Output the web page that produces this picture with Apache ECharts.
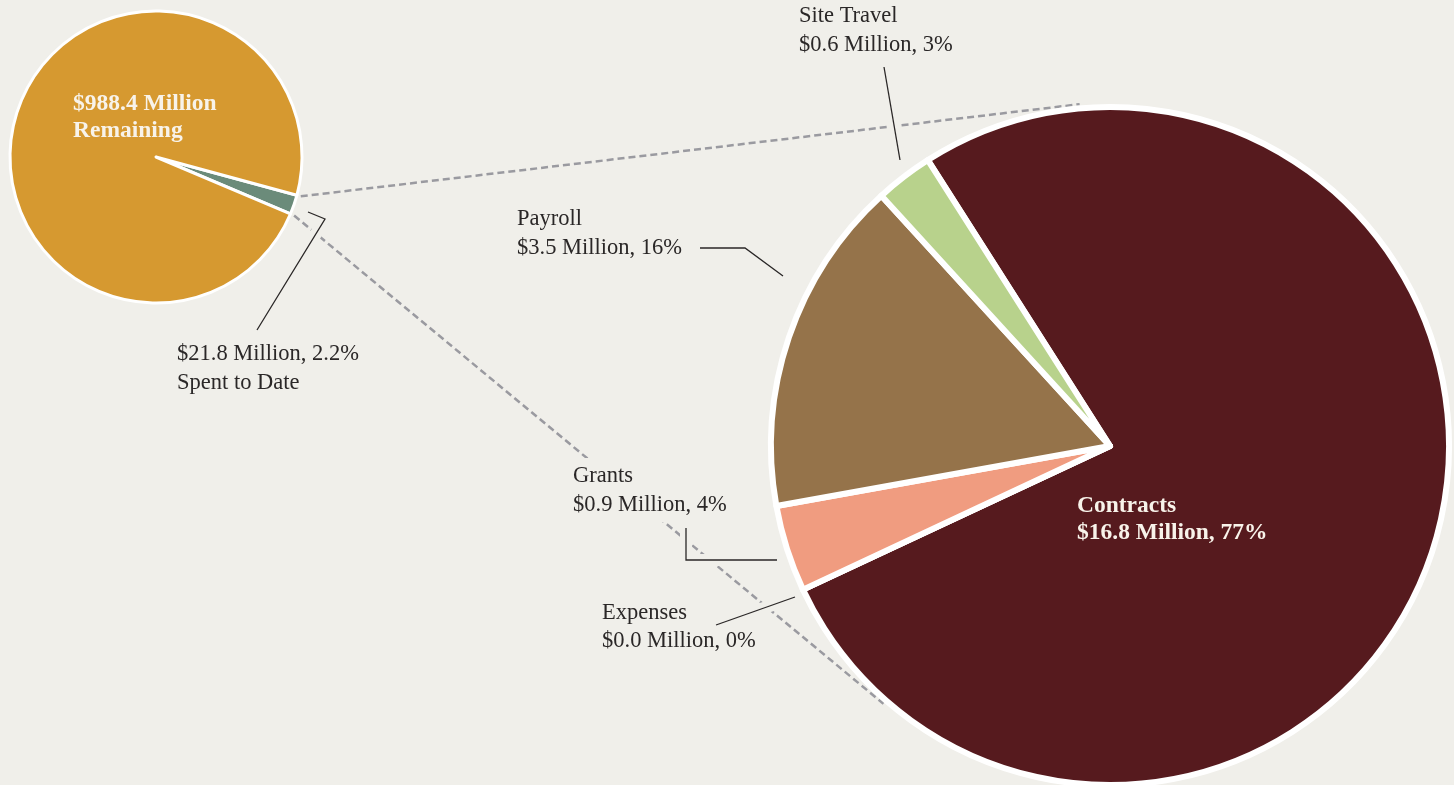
<!DOCTYPE html>
<html>
<head>
<meta charset="utf-8">
<script src="https://cdn.jsdelivr.net/npm/echarts@6/dist/echarts.min.js"></script>
<style>
html, body { margin: 0; padding: 0; background: #F0EFEA; }
#c { width: 1454px; height: 785px; }
</style>
</head>
<body>
<div id="c"></div>
<script>
// ---------------- data ----------------
const overallNames = ['Spent to Date', 'Remaining'];
const overallValues = [21.8, 988.4];

const spentNames = ['Contracts', 'Expenses', 'Grants', 'Payroll', 'Site Travel'];
const spentValues = [16.8, 0.0, 0.9, 3.5, 0.6];

// ---------------- styles ----------------
const BG = '#F0EFEA';
const TEXT = '#2A2727';
const LIGHT = '#F8F3EA';
const FONT = 'Liberation Serif';
const overallColors = ['#6B8B7A', '#D69930'];
const spentColors = ['#561A1E', '#C9C1B5', '#F09C80', '#95734A', '#B8D28C'];

// label placement (left edge, first baseline, line height, leader points)
const smallLabelLayout = [
  { left: 177, base: 361, lh: 29, pad: [0, 0], line: [[308, 212], [325, 219], [257, 330]] },
  { left: 73, base: 111.5, lh: 27, pad: [0, 0] }
];
const bigLabelLayout = [
  { left: 1077, base: 513.5, lh: 27, pad: [0, 0] },
  { left: 602, base: 620, lh: 28, pad: [0, 0], line: [[795, 597], [716, 625]] },
  { left: 573, base: 483, lh: 29, pad: [3, 6], line: [[777, 560], [686, 560], [686, 528]] },
  { left: 517, base: 226, lh: 29.5, pad: [0, 0], line: [[783, 276], [745, 248], [700, 248]] },
  { left: 799, base: 23, lh: 29.5, pad: [0, 0], line: [[900, 160], [884, 67]] }
];

const overallTotal = overallValues.reduce((a, b) => a + b, 0);
const spentTotal = spentValues.reduce((a, b) => a + b, 0);

function placer(cfg) {
  return function (p) {
    const L = cfg[p.dataIndex];
    if (!L) return {};
    const out = {
      x: L.left - L.pad[1],
      y: L.base - 7.4 - L.lh / 2 - L.pad[0],
      align: 'left',
      verticalAlign: 'top'
    };
    if (L.line) out.labelLinePoints = L.line;
    return out;
  };
}

const boldLabel = { position: 'inside', color: LIGHT, fontWeight: 'bold', fontSize: 23.5 };

const smallData = overallNames.map((n, i) => {
  const v = overallValues[i];
  const item = { name: n, value: v, itemStyle: { color: overallColors[i] } };
  if (i === 0) {
    item.label = {
      formatter: '$' + v.toFixed(1) + ' Million, ' + (v / overallTotal * 100).toFixed(1) + '%\n' + n,
      lineHeight: smallLabelLayout[i].lh
    };
  } else {
    item.label = Object.assign({}, boldLabel, {
      formatter: '$' + v.toFixed(1) + ' Million\n' + n,
      lineHeight: smallLabelLayout[i].lh
    });
    item.labelLine = { show: false };
  }
  return item;
});

const bigData = spentNames.map((n, i) => {
  const v = spentValues[i];
  const pct = Math.round(v / spentTotal * 100);
  const item = {
    name: n, value: v, itemStyle: { color: spentColors[i] },
    label: {
      formatter: n + '\n$' + v.toFixed(1) + ' Million, ' + pct + '%',
      lineHeight: bigLabelLayout[i].lh
    }
  };
  if (i === 0) {
    Object.assign(item.label, boldLabel);
    item.labelLine = { show: false };
  }
  if (bigLabelLayout[i].pad[0] > 0) {
    item.label.backgroundColor = BG;
    item.label.padding = bigLabelLayout[i].pad;
  }
  return item;
});

const baseLabel = {
  show: true,
  position: 'outside',
  color: TEXT,
  fontFamily: FONT,
  fontSize: 22.5,
  lineHeight: 29
};
const baseLine = {
  show: true, length: 10, length2: 10,
  lineStyle: { color: TEXT, width: 1.3 }
};

const option = {
  backgroundColor: BG,
  animation: false,
  series: [
    {
      type: 'pie',
      name: 'overall',
      center: [156, 157],
      radius: 146,
      startAngle: -15.2,
      clockwise: true,
      avoidLabelOverlap: false,
      silent: true,
      itemStyle: { borderColor: '#FFFFFF', borderWidth: 3 },
      label: baseLabel,
      labelLine: baseLine,
      labelLayout: placer(smallLabelLayout),
      emphasis: { disabled: true },
      data: smallData
    },
    {
      type: 'pie',
      name: 'spent',
      center: [1110, 446],
      radius: 339,
      startAngle: 122.5,
      clockwise: true,
      avoidLabelOverlap: false,
      silent: true,
      itemStyle: { borderColor: '#FFFFFF', borderWidth: 6 },
      label: baseLabel,
      labelLine: baseLine,
      labelLayout: placer(bigLabelLayout),
      emphasis: { disabled: true },
      data: bigData
    }
  ]
};

const chart = echarts.init(document.getElementById('c'));
chart.setOption(option);

// connector dashed lines: from the spent slice of the small pie, tangent to the big pie
function connectors() {
  let s, b;
  try {
    const m = chart.getModel();
    s = m.getSeriesByIndex(0).getData().getItemLayout(0);
    b = m.getSeriesByIndex(1).getData().getItemLayout(0);
  } catch (e) { }
  if (!s || !b) return;
  const a1 = Math.min(s.startAngle, s.endAngle);
  const a2 = Math.max(s.startAngle, s.endAngle);
  const rs = s.r + 4;
  const P1 = [s.cx + rs * Math.cos(a1), s.cy + rs * Math.sin(a1)];
  const P2 = [s.cx + rs * Math.cos(a2), s.cy + rs * Math.sin(a2)];
  const R = b.r + 4;
  function tangent(P, sign, extra) {
    const dx = b.cx - P[0], dy = b.cy - P[1];
    const d = Math.hypot(dx, dy);
    const th = Math.atan2(dy, dx);
    const al = Math.asin(R / d);
    const dir = th + sign * al;
    const L = Math.sqrt(d * d - R * R) + extra;
    return [P[0] + L * Math.cos(dir), P[1] + L * Math.sin(dir)];
  }
  const T1 = tangent(P1, -1, 10);
  const T2 = tangent(P2, 1, -10);
  const dash = { stroke: '#9A9AA0', lineWidth: 2.5, lineDash: [7, 4] };
  const els = [
    { type: 'line', z: 0, silent: true, shape: { x1: P1[0], y1: P1[1], x2: T1[0], y2: T1[1] }, style: dash },
    { type: 'line', z: 0, silent: true, shape: { x1: P2[0], y1: P2[1], x2: T2[0], y2: T2[1] }, style: dash }
  ];
  // background halos behind the leader lines
  [smallLabelLayout, bigLabelLayout].forEach(cfg => cfg.forEach(L => {
    if (!L.line) return;
    els.push({
      type: 'polyline', z: 1, silent: true,
      shape: { points: L.line },
      style: { stroke: BG, lineWidth: 12, fill: null, lineCap: 'butt' }
    });
  }));
  chart.setOption({ graphic: { elements: els } });
}
connectors();
</script>
</body>
</html>
